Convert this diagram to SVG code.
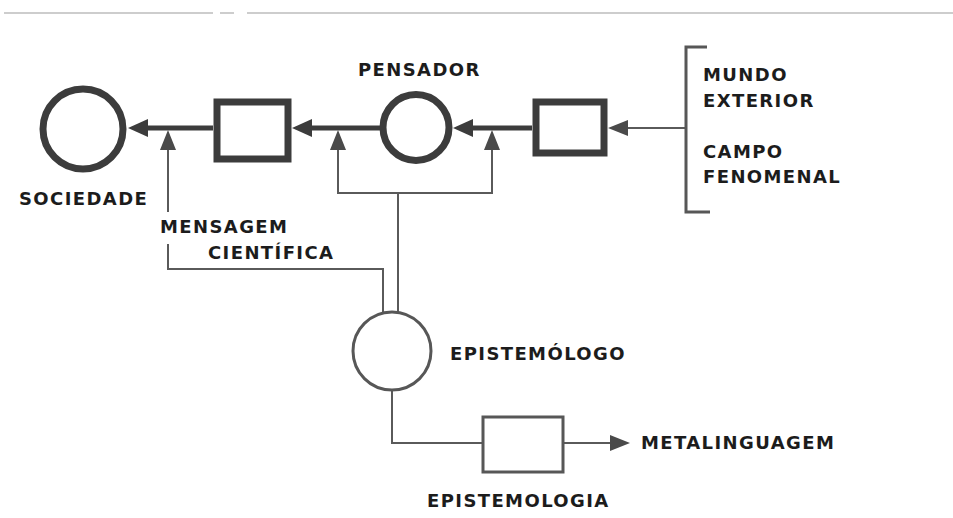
<svg xmlns="http://www.w3.org/2000/svg" width="953" height="518" viewBox="0 0 953 518">
  <style>
    .lbl { font-family: "DejaVu Sans", "Verdana", sans-serif; font-weight: bold; font-size: 18px; letter-spacing: 1.4px; fill: #1c1c1c; }
    .heavy { fill: none; stroke: #3c3c3c; stroke-width: 7; }
    .light { fill: none; stroke: #575757; stroke-width: 3; }
    .main { fill: none; stroke: #3c3c3c; stroke-width: 5; }
    .wire { fill: none; stroke: #5a5a5a; stroke-width: 2; }
    .rule { stroke: #bdbdbd; stroke-width: 1.5; }
  </style>
  <defs>
    <marker id="head" viewBox="0 0 20 18" refX="0" refY="9" markerWidth="20" markerHeight="18" markerUnits="userSpaceOnUse" orient="auto">
      <path d="M0,0 L20,9 L0,18 z" fill="#3c3c3c"/>
    </marker>
    <marker id="headSmall" viewBox="0 0 20 16" refX="0" refY="8" markerWidth="20" markerHeight="16" markerUnits="userSpaceOnUse" orient="auto">
      <path d="M0,0 L20,8 L0,16 z" fill="#4a4a4a"/>
    </marker>
  </defs>
  <rect width="953" height="518" fill="#ffffff"/>

  <!-- page rule at the top -->
  <g id="rule">
    <line class="rule" x1="4" y1="13" x2="213" y2="13"/>
    <line class="rule" x1="220" y1="13" x2="234" y2="13"/>
    <line class="rule" x1="247" y1="13" x2="953" y2="13"/>
  </g>

  <g id="connectors">
    <!-- main chain -->
    <path class="main" d="M532,128 H473" marker-end="url(#head)"/>
    <path class="main" d="M380,128 H312" marker-end="url(#head)"/>
    <path class="main" d="M213,128 H148" marker-end="url(#head)"/>
    <path class="wire" d="M686,128 H628" marker-end="url(#headSmall)"/>
    <!-- bracket of the outer world -->
    <path class="light" d="M707,47 H686 V212 H710"/>
    <!-- feedback from the epistemologist to the thinker -->
    <path class="wire" d="M398,312 V193"/>
    <path class="wire" d="M338,150 V193 H492 V150"/>
    <path class="wire" d="M338,151 V150" marker-end="url(#headSmall)"/>
    <path class="wire" d="M492,151 V150" marker-end="url(#headSmall)"/>
    <!-- scientific message -->
    <path class="wire" d="M383,313 V269 H168 V244"/>
    <path class="wire" d="M168,212 V150" marker-end="url(#headSmall)"/>
    <!-- epistemology output -->
    <path class="wire" d="M392,390 V443 H483"/>
    <path class="wire" d="M563,443 H610" marker-end="url(#headSmall)"/>
  </g>

  <g id="sociedade">
    <circle class="heavy" cx="83" cy="129" r="40" fill="#fff"/>
    <text class="lbl" x="19" y="205">SOCIEDADE</text>
  </g>

  <g id="box-mensagem">
    <rect class="heavy" x="217" y="102" width="71" height="57" stroke-width="8" fill="#fff"/>
  </g>

  <g id="pensador">
    <circle class="heavy" cx="416" cy="127.5" r="33" fill="#fff"/>
    <text class="lbl" x="358" y="76">PENSADOR</text>
  </g>

  <g id="box-percepcao">
    <rect class="heavy" x="536" y="102" width="68" height="51" stroke-width="8" fill="#fff"/>
  </g>

  <g id="mundo">
    <text class="lbl" x="703" y="81">MUNDO</text>
    <text class="lbl" x="703" y="107">EXTERIOR</text>
    <text class="lbl" x="703" y="158">CAMPO</text>
    <text class="lbl" x="703" y="183">FENOMENAL</text>
  </g>

  <g id="mensagem">
    <text class="lbl" x="160" y="233">MENSAGEM</text>
    <text class="lbl" x="208" y="259">CIENTÍFICA</text>
  </g>

  <g id="epistemologo">
    <circle class="light" cx="392" cy="351" r="39" fill="#fff"/>
    <text class="lbl" x="450" y="360">EPISTEMÓLOGO</text>
  </g>

  <g id="epistemologia">
    <rect class="light" x="483" y="417" width="80" height="55" fill="#fff"/>
    <text class="lbl" x="427" y="507">EPISTEMOLOGIA</text>
  </g>

  <g id="metalinguagem">
    <text class="lbl" x="641" y="449">METALINGUAGEM</text>
  </g>
</svg>
